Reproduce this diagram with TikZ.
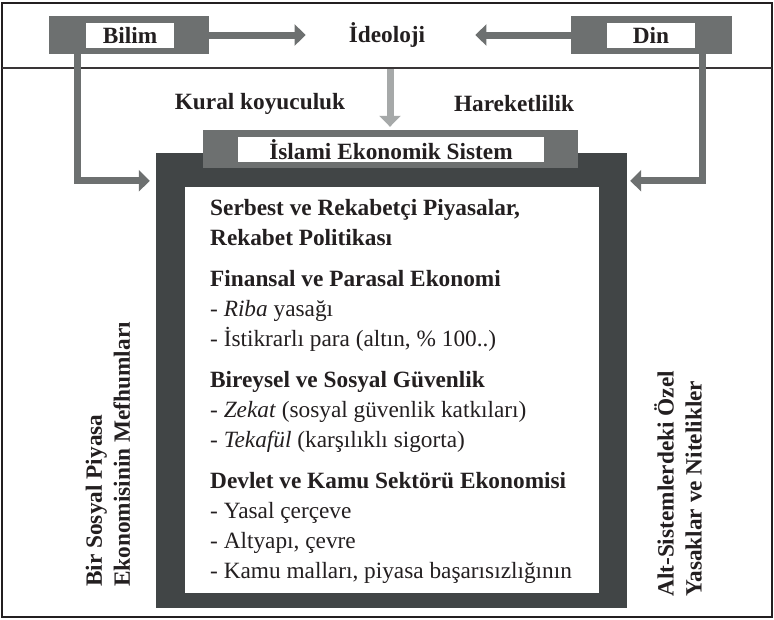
\documentclass[tikz,border=0pt]{standalone}
\usepackage{fontspec}
\setmainfont{Liberation Serif}
\usetikzlibrary{arrows.meta,positioning}

\definecolor{midgray}{HTML}{6D7070}
\definecolor{boxdark}{HTML}{414546}
\definecolor{arrowlight}{HTML}{A6A9A9}
\definecolor{inkcol}{HTML}{231F20}

\begin{document}
\begin{tikzpicture}[x=1pt, y=-1pt, text=inkcol,
        graybox/.style={fill=midgray, inner sep=0pt},
        whitebox/.style={fill=white, inner sep=0pt, font=\fontsize{23.3}{28}\selectfont\bfseries},
        label/.style={inner sep=0pt, font=\fontsize{23.3}{28}\selectfont\bfseries},
        fatarrow/.style={draw=midgray, line width=7pt, -{Triangle[length=11pt,width=21pt]}}]

        \useasboundingbox (0,0) rectangle (774,619);

        % outer frame and the line under the top row
        \draw[inkcol, line width=1.5pt] (2,3) rectangle (772,617);
        \draw[inkcol!90, line width=1.2pt] (2,68) -- (772,68);

        % top row
        \node[graybox, minimum width=160pt, minimum height=38pt] (bilimbox) at (129,35) {};
        \node[whitebox, minimum width=88pt, minimum height=25pt] (bilim) at (130,35) {Bilim};

        \node[graybox, minimum width=161pt, minimum height=38pt] (dinbox) at (651.5,35) {};
        \node[whitebox, minimum width=88pt, minimum height=25pt] (din) at (651,35.5) {Din};

        \node[label] (ideoloji) at (387,35) {İdeoloji};

        % labels over the system box
        \node[label] (kural) at (260,104) {Kural koyuculuk};
        \node[label] (hareket) at (514,104) {Hareketlilik};

        % the system box, header on top
        \node[fill=boxdark, inner sep=0pt, minimum width=471pt, minimum height=455pt] (darkbox) at (391.5,380.5) {};
        \node[fill=white, inner sep=0pt, minimum width=414pt, minimum height=406pt] (inner) at (392,390) {};
        \node[graybox, minimum width=375pt, minimum height=38pt] (header) at (390.5,149) {};
        \node[whitebox, minimum width=306pt, minimum height=25pt] (title) at (391,149.5) {İslami Ekonomik Sistem};

        % contents of the system
        \node[inner sep=0pt, anchor=north west, align=left, font=\fontsize{23.3}{30}\selectfont] (list) at (210,199) {%
            \textbf{Serbest ve Rekabetçi Piyasalar,}\\
            \textbf{Rekabet Politikası}\\[11pt]
            \textbf{Finansal ve Parasal Ekonomi}\\
            - \textit{Riba} yasağı\\
            - İstikrarlı para (altın, \% 100..)\\[11pt]
            \textbf{Bireysel ve Sosyal Güvenlik}\\
            - \textit{Zekat} (sosyal güvenlik katkıları)\\
            - \textit{Tekafül} (karşılıklı sigorta)\\[11pt]
            \textbf{Devlet ve Kamu Sektörü Ekonomisi}\\
            - Yasal çerçeve\\
            - Altyapı, çevre\\
            - Kamu malları, piyasa başarısızlığının};

        % side texts, read upwards
        \node[label, rotate=90, anchor=west, align=left] (leftnote) at (108,587)
            {Bir Sosyal Piyasa\\Ekonomisinin Mefhumları};
        \node[label, rotate=90, anchor=west, align=left] (rightnote) at (678,597)
            {Alt-Sistemlerdeki Özel\\Yasaklar ve Nitelikler};

        % arrows into İdeoloji
        \draw[fatarrow] (bilimbox.east) -- (ideoloji.west) [shorten >=43pt];
        \draw[fatarrow] (dinbox.west) -- (ideoloji.east) [shorten >=50pt];

        % down from İdeoloji
        \coordinate (split) at (390,69);
        \draw[draw=arrowlight, line width=7pt, -{Triangle[length=11pt,width=21pt]}, shorten >=3pt] (split) -- (split |- header.north);

        % side arrows into the system
        \draw[fatarrow] ([xshift=28.5pt]bilimbox.south west) |- ([xshift=-6pt,yshift=-28pt]darkbox.north west);
        \draw[fatarrow] ([xshift=-30pt]dinbox.south east) |- ([xshift=3pt,yshift=-28pt]darkbox.north east);

    \end{tikzpicture}
\end{document}
